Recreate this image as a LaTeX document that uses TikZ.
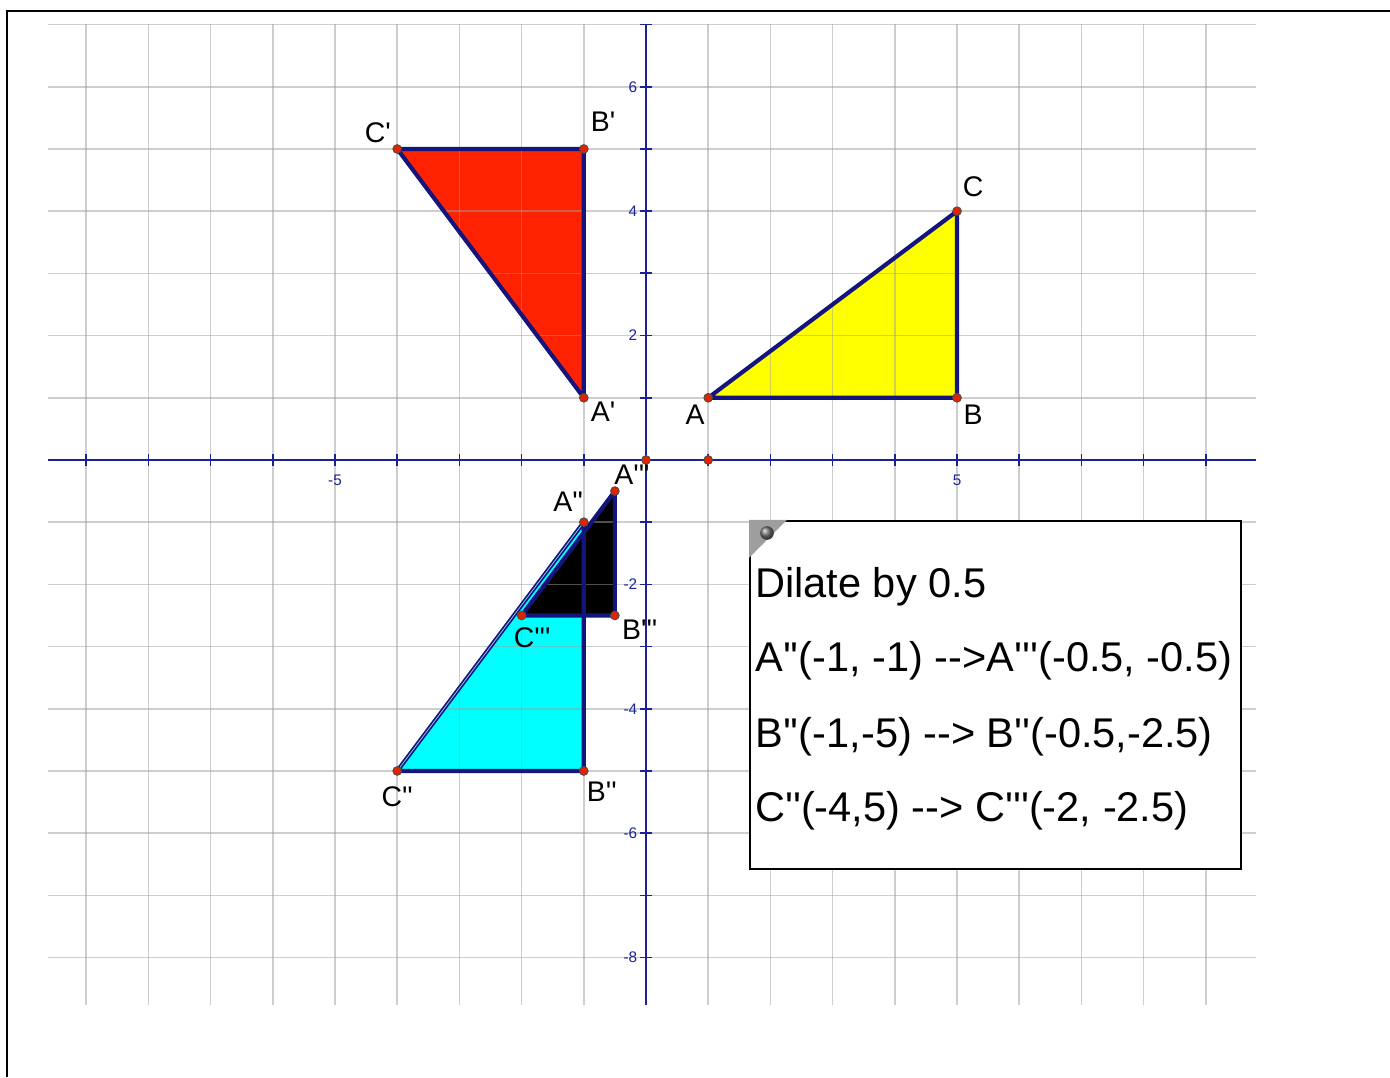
\documentclass[tikz,border=0pt]{standalone}
\usepackage{fontspec}
\newfontfamily\labelfont{Liberation Sans}
\usepackage{xcolor}
\usetikzlibrary{arrows.meta}

\definecolor{axisblue}{RGB}{25,35,150}
\definecolor{edgenavy}{RGB}{20,20,125}
\definecolor{gridgray}{RGB}{158,158,158}
\definecolor{redfill}{RGB}{255,34,0}
\definecolor{yellowfill}{RGB}{255,255,0}
\definecolor{cyanfill}{RGB}{0,255,255}
\definecolor{ptred}{RGB}{225,35,0}

\begin{document}
\begin{tikzpicture}[
    gridline/.style={gridgray,opacity=0.5,line width=0.75pt},
    axisline/.style={axisblue,line width=0.8pt},
    edge/.style={edgenavy,line width=1.9pt,line join=round},
    pt/.style={circle,fill=ptred,draw=black!70,line width=0.4pt,inner sep=0pt,minimum size=1.4mm},
    ptlabel/.style={font=\labelfont\fontsize{13}{14}\selectfont,inner sep=0pt},
    ticklabel/.style={font=\labelfont\fontsize{7}{8}\selectfont,text=axisblue,inner sep=1pt},
    notetext/.style={font=\labelfont\fontsize{19}{22}\selectfont,inner sep=0pt,anchor=base west}
  ]
        \def\xmin{-9.61}
        \def\xmax{9.81}
        \def\ymin{-8.76}
        \def\ymax{7.01}

        \useasboundingbox (-10.386,-9.920) rectangle (11.961,7.395);

        % frame
        \draw[line width=1.3pt] (-10.273,-9.92) -- (-10.273,7.219) -- (11.961,7.219);

        %------------------
        % points
        %------------------
        \coordinate (A) at (1,1);
        \coordinate (B) at (5,1);
        \coordinate (C) at (5,4);
        \coordinate (A1) at (-1,1);
        \coordinate (B1) at (-1,5);
        \coordinate (C1) at (-4,5);
        \coordinate (A2) at (-1,-1);
        \coordinate (B2) at (-1,-5);
        \coordinate (C2) at (-4,-5);
        \coordinate (A3) at (-0.5,-0.5);
        \coordinate (B3) at (-0.5,-2.5);
        \coordinate (C3) at (-2,-2.5);
        \coordinate (O) at (0,0);
        \coordinate (E) at (1,0);

        %------------------
        % fills
        %------------------
        \fill[yellowfill] (A) -- (B) -- (C) -- cycle;
        \fill[redfill] (A1) -- (B1) -- (C1) -- cycle;
        \fill[cyanfill] (A2) -- (B2) -- (C2) -- cycle;
        \fill[black] (A3) -- (B3) -- (C3) -- cycle;

        %------------------
        % grid
        %------------------
        \foreach \x in {-9,...,9}
          \draw[gridline] (\x,\ymin) -- (\x,\ymax);
        \foreach \y in {-8,...,7}
          \draw[gridline] (\xmin,\y) -- (\xmax,\y);

        %------------------
        % axes
        %------------------
        \draw[axisline] (\xmin,0) -- (\xmax,0);
        \draw[axisline] (0,\ymin) -- (0,\ymax);
        \foreach \x in {-9,...,9}
          \draw[axisline] (\x,-0.1) -- (\x,0.1);
        \foreach \y in {-8,...,7}
          \draw[axisline] (-0.1,\y) -- (0.1,\y);

        \foreach \x in {-5,5}
          \node[ticklabel,below] (tx\x) at (\x,-0.2) {\x};
        \foreach \y in {6,4,2,-2,-4,-6,-8}
          \node[ticklabel,left] (ty\y) at (-0.1,\y) {\y};

        %------------------
        % triangles
        %------------------
        \draw[edge] (A) -- (B) -- (C) -- cycle;
        \draw[edge] (A1) -- (B1) -- (C1) -- cycle;
        \draw[edge] (A2) -- (B2) -- (C2) -- cycle;
        \draw[cyan!40!white,line width=0.3pt] (C2) -- (A2);
        \draw[edge] (A3) -- (B3) -- (C3) -- cycle;

        \foreach \p in {A,B,C,A1,B1,C1,A2,B2,C2,A3,B3,C3,O,E}
          \node[pt] (p\p) at (\p) {};

        % labels
        \node[ptlabel] (lA) at (0.79,0.72) {A};
        \node[ptlabel] (lB) at (5.26,0.72) {B};
        \node[ptlabel] (lC) at (5.26,4.39) {C};
        \node[ptlabel] (lA1) at (-0.69,0.77) {A'};
        \node[ptlabel] (lB1) at (-0.69,5.43) {B'};
        \node[ptlabel] (lC1) at (-4.31,5.26) {C'};
        \node[ptlabel] (lA2) at (-1.25,-0.675) {A''};
        \node[ptlabel] (lB2) at (-0.71,-5.34) {B''};
        \node[ptlabel] (lC2) at (-4.0,-5.42) {C''};
        \node[ptlabel] (lA3) at (-0.225,-0.24) {A'''};
        \node[ptlabel] (lB3) at (-0.10,-2.73) {B'''};
        \node[ptlabel] (lC3) at (-1.83,-2.85) {C'''};

        %------------------
        % text box
        %------------------
        \node[draw=black,fill=white,line width=0.8pt,anchor=north west,
              minimum width=7.894cm,minimum height=5.595cm,inner sep=0pt]
          (note) at (1.656,-0.965) {};
        \fill[black!38] (note.north west) -- ++(0.61,0) -- ++(-0.61,-0.61) -- cycle;
        \shade[ball color=black!55] (1.945,-1.174) circle (0.11);

        \node[notetext] (t1) at (1.75,-2.219) {Dilate by 0.5};
        \node[notetext] (t2) at (1.75,-3.408) {A''(-1, -1) -->A'''(-0.5, -0.5)};
        \node[notetext] (t3) at (1.75,-4.630) {B''(-1,-5) --> B''(-0.5,-2.5)};
        \node[notetext] (t4) at (1.75,-5.820) {C''(-4,5) --> C'''(-2, -2.5)};
      \end{tikzpicture}
\end{document}
